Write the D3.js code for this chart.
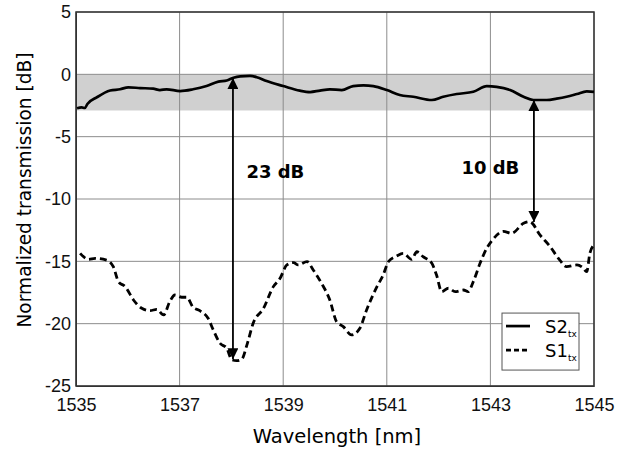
<!DOCTYPE html>
<html>
<head>
<meta charset="utf-8">
<script src="https://cdn.jsdelivr.net/npm/d3@7"></script>
<style>
  body { margin: 0; background: #fff; }
  svg { font-family: "DejaVu Sans", sans-serif; }
  .grid line { stroke: #8c8c8c; stroke-width: 1; }
  .axis path, .axis line { stroke: #333; }
  .axis text { font-size: 18px; fill: #111; }
</style>
</head>
<body>
<script>
// S2_tx (solid) - wavelength [nm] and normalized transmission [dB]
var s2Wl = [1535.02, 1535.11, 1535.17, 1535.22, 1535.40, 1535.66, 1535.85, 1536.01, 1536.24, 1536.49,
  1536.62, 1536.75, 1537.01, 1537.26, 1537.52, 1537.75, 1537.91, 1538.04, 1538.17, 1538.36,
  1538.49, 1538.68, 1539.00, 1539.32, 1539.52, 1539.71, 1539.90, 1540.13, 1540.35, 1540.55,
  1540.74, 1541.00, 1541.25, 1541.51, 1541.87, 1542.09, 1542.35, 1542.67, 1542.93, 1543.12,
  1543.38, 1543.64, 1543.83, 1544.09, 1544.28, 1544.47, 1544.67, 1544.86, 1545.00];
var s2Db = [-2.72, -2.65, -2.70, -2.38, -1.85, -1.30, -1.20, -1.04, -1.10, -1.15,
  -1.26, -1.20, -1.34, -1.20, -0.94, -0.59, -0.50, -0.27, -0.16, -0.13,
  -0.23, -0.54, -0.94, -1.31, -1.42, -1.30, -1.20, -1.26, -0.94, -0.88,
  -0.94, -1.26, -1.66, -1.80, -2.06, -1.80, -1.58, -1.40, -0.94, -1.00,
  -1.26, -1.80, -2.06, -2.06, -1.95, -1.80, -1.58, -1.36, -1.40];

// S1_tx (dashed)
var s1Wl = [1535.08, 1535.24, 1535.37, 1535.59, 1535.72, 1535.82, 1535.95, 1536.11, 1536.27, 1536.43,
  1536.56, 1536.69, 1536.81, 1536.91, 1537.04, 1537.14, 1537.26, 1537.39, 1537.55, 1537.65,
  1537.78, 1537.91, 1538.01, 1538.10, 1538.20, 1538.30, 1538.42, 1538.62, 1538.81, 1538.94,
  1539.07, 1539.20, 1539.29, 1539.46, 1539.58, 1539.74, 1539.90, 1540.03, 1540.16, 1540.32,
  1540.48, 1540.61, 1540.81, 1540.93, 1541.03, 1541.19, 1541.32, 1541.48, 1541.58, 1541.70,
  1541.87, 1541.96, 1542.06, 1542.19, 1542.32, 1542.48, 1542.57, 1542.67, 1542.80, 1542.93,
  1543.03, 1543.25, 1543.41, 1543.64, 1543.76, 1543.96, 1544.15, 1544.34, 1544.47, 1544.67,
  1544.78, 1544.86, 1544.92, 1545.00];
var s1Db = [-14.36, -14.84, -14.76, -14.90, -15.43, -16.63, -17.03, -18.10, -18.77, -18.96,
  -18.85, -19.30, -18.23, -17.70, -17.88, -17.88, -18.69, -18.96, -19.57, -20.50,
  -21.57, -21.97, -22.90, -22.97, -22.85, -21.70, -19.97, -18.77, -17.03, -16.36,
  -15.29, -15.10, -15.29, -15.03, -15.69, -16.76, -18.10, -19.84, -20.24, -20.90,
  -20.37, -18.90, -17.03, -16.10, -15.03, -14.57, -14.36, -14.84, -14.23, -14.63,
  -15.16, -16.10, -17.43, -17.16, -17.43, -17.30, -17.43, -16.63, -15.16, -13.95,
  -13.34, -12.60, -12.75, -11.95, -11.82, -12.90, -13.80, -14.90, -15.43, -15.29,
  -15.50, -15.83, -14.36, -13.69];

// annotations: double arrows between the curves
var arrowWl = [1538.03, 1543.84];
var arrowTop = [-0.30, -2.06];
var arrowBottom = [-22.85, -11.85];
var arrowLabels = ["23 dB", "10 dB"];
var labelWl = [1538.29, 1542.44];
var labelDb = [-8.3, -8.0];

var xTicks = [1535, 1537, 1539, 1541, 1543, 1545];
var yTicks = [5, 0, -5, -10, -15, -20, -25];
var bandDb = [0, -2.9];

var margin = { top: 12, right: 24, bottom: 63, left: 76 },
  width = 618 - margin.left - margin.right,
  height = 449 - margin.top - margin.bottom;

var x = d3.scaleLinear().domain([1535, 1545]).range([0, width]);
var y = d3.scaleLinear().domain([-25, 5]).range([height, 0]);

var svg = d3.select("body").append("svg")
  .attr("width", 618)
  .attr("height", 449);

var defs = svg.append("defs");
defs.append("clipPath").attr("id", "clip")
  .append("rect").attr("width", width).attr("height", height);
defs.append("marker")
  .attr("id", "head")
  .attr("viewBox", "0 0 10 10")
  .attr("refX", 10).attr("refY", 5)
  .attr("markerWidth", 12).attr("markerHeight", 11)
  .attr("markerUnits", "userSpaceOnUse")
  .attr("orient", "auto-start-reverse")
  .append("path").attr("d", "M0,0 L10,5 L0,10 z").attr("fill", "#000");

var g = svg.append("g")
  .attr("transform", "translate(" + margin.left + "," + margin.top + ")");

// gray band 0 .. -3 dB
g.append("rect")
  .attr("x", 0)
  .attr("y", y(bandDb[0]))
  .attr("width", width)
  .attr("height", y(bandDb[1]) - y(bandDb[0]))
  .attr("fill", "#d0d0d0");

// grid
g.append("g").attr("class", "grid")
  .selectAll("line.v").data(xTicks).enter().append("line")
  .attr("x1", function (d) { return x(d); }).attr("x2", function (d) { return x(d); })
  .attr("y1", 0).attr("y2", height);
g.append("g").attr("class", "grid")
  .selectAll("line.h").data(yTicks).enter().append("line")
  .attr("x1", 0).attr("x2", width)
  .attr("y1", function (d) { return y(d); }).attr("y2", function (d) { return y(d); });

// axes
g.append("g").attr("class", "axis")
  .attr("transform", "translate(0," + height + ")")
  .call(d3.axisBottom(x).tickValues(xTicks).tickFormat(d3.format("d")).tickSize(0).tickPadding(12));
g.append("g").attr("class", "axis")
  .call(d3.axisLeft(y).tickValues(yTicks).tickFormat(function (d) { return String(d); }).tickSize(0).tickPadding(5));

// frame
g.append("rect")
  .attr("width", width).attr("height", height)
  .attr("fill", "none").attr("stroke", "#333").attr("stroke-width", 1.5);

var line = d3.line()
  .x(function (d) { return x(d[0]); })
  .y(function (d) { return y(d[1]); })
  .curve(d3.curveMonotoneX);

var plot = g.append("g").attr("clip-path", "url(#clip)");
plot.append("path")
  .datum(d3.zip(s2Wl, s2Db))
  .attr("fill", "none").attr("stroke", "#000").attr("stroke-width", 2.7)
  .attr("d", line);
plot.append("path")
  .datum(d3.zip(s1Wl, s1Db))
  .attr("fill", "none").attr("stroke", "#000").attr("stroke-width", 2.8)
  .attr("stroke-dasharray", "7,4")
  .attr("d", line);

// arrows
arrowWl.forEach(function (w, i) {
  g.append("line")
    .attr("x1", x(w)).attr("x2", x(w))
    .attr("y1", y(arrowTop[i])).attr("y2", y(arrowBottom[i]))
    .attr("stroke", "#000").attr("stroke-width", 1.8)
    .attr("marker-start", "url(#head)")
    .attr("marker-end", "url(#head)");
  g.append("text")
    .attr("x", x(labelWl[i])).attr("y", y(labelDb[i]))
    .attr("font-size", 18).attr("font-weight", "bold")
    .text(arrowLabels[i]);
});

// legend
var lg = g.append("g").attr("transform", "translate(" + (width - 92) + "," + (y(-19.15)) + ")");
lg.append("rect").attr("width", 77).attr("height", 57)
  .attr("fill", "#fff").attr("stroke", "#555").attr("stroke-width", 1);
var legendNames = ["S2", "S1"];
var legendDash = [null, "5,3"];
legendNames.forEach(function (n, i) {
  var ly = 13 + i * 24;
  lg.append("line").attr("x1", 4).attr("x2", 28).attr("y1", ly).attr("y2", ly)
    .attr("stroke", "#000").attr("stroke-width", 2.7)
    .attr("stroke-dasharray", legendDash[i]);
  var t = lg.append("text").attr("x", 43).attr("y", ly + 7).attr("font-size", 18);
  t.append("tspan").text(n);
  t.append("tspan").attr("font-size", 9).attr("dy", 4).text("tx");
});

// axis titles
svg.append("text")
  .attr("x", 337).attr("y", 443)
  .attr("text-anchor", "middle").attr("font-size", 19.5)
  .text("Wavelength [nm]");
svg.append("text")
  .attr("transform", "translate(31," + 190 + ") rotate(-90)")
  .attr("text-anchor", "middle").attr("font-size", 18.6)
  .text("Normalized transmission [dB]");
</script>
</body>
</html>
